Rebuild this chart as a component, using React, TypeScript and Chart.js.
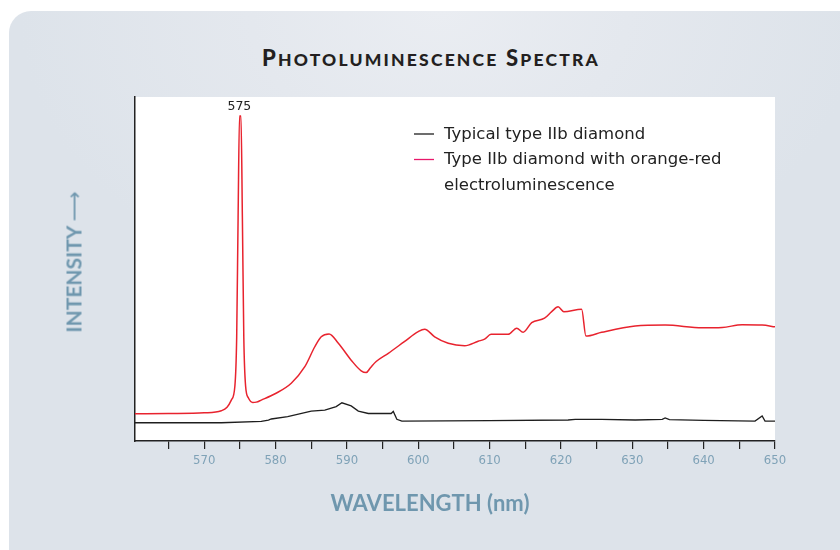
import React, { useEffect, useRef } from "react";
import { Chart, registerables } from "chart.js";

Chart.register(...registerables);

// ---- Data ----
const redWavelength = [
  560.3, 565, 570, 572.4, 573.2, 573.8, 574.3, 574.55, 574.75, 574.95, 575.15, 575.35, 575.55, 575.8,
  576.2, 576.8, 577.3, 578.0, 580, 582.2, 584.1, 585.5, 586.4, 587.5, 588.8, 590.6, 592.0, 592.7,
  593.3, 594.1, 595.8, 598, 600, 600.9, 602.3, 604.2, 606.5, 608.4, 609.3, 610.2, 612.6, 613.8,
  614.7, 615.9, 617.7, 618.7, 619.6, 620.4, 622.9, 623.5, 625.7, 630.4, 634.6, 639.8, 642.6, 645.4,
  648.2, 650,
];
const redIntensity = [
  7.9, 8.0, 8.2, 8.8, 9.8, 11.9, 16, 30, 65, 94.5, 94.5, 65, 30, 16,
  12.5, 11.2, 11.3, 11.9, 13.8, 16.8, 21.6, 27.4, 30.3, 31.1, 28.4, 23.5, 20.4, 19.9,
  21.3, 23.1, 25.5, 28.8, 31.8, 32.5, 30.3, 28.4, 27.7, 29.0, 29.6, 31.0, 31.0, 32.8,
  31.6, 34.4, 35.7, 37.6, 39.0, 37.6, 38.3, 30.5, 31.6, 33.4, 33.7, 32.9, 33.0, 33.8,
  33.7, 33.2,
];

const blackWavelength = [
  560.3, 572.4, 578, 579, 579.4, 581.7, 585, 586.9, 588.5, 589.3, 590.6, 591.6, 593, 596.2,
  596.5, 597, 597.7, 610, 621, 622, 625.7, 630.4, 634.2, 634.6, 635.2, 640, 647.2, 648.2, 648.6, 650,
];
const blackIntensity = [
  5.3, 5.3, 5.7, 6.1, 6.4, 7.1, 8.7, 9.0, 10.0, 11.1, 10.2, 8.7, 8.0, 8.0,
  8.6, 6.3, 5.8, 5.9, 6.1, 6.3, 6.3, 6.1, 6.3, 6.7, 6.2, 6.0, 5.8, 7.3, 5.8, 5.8,
];

const xTickValues = [565, 570, 575, 580, 585, 590, 595, 600, 605, 610, 615, 620, 625, 630, 635, 640, 645, 650];
const xTickLabels = xTickValues.map((v) => (v % 10 === 0 ? String(v) : ""));

const seriesLabels = ["Typical type IIb diamond", "Type IIb diamond with orange-red electroluminescence"];
const legendLines = [["Typical type IIb diamond"], ["Type IIb diamond with orange-red", "electroluminescence"]];
const peakLabel = { wavelength: 575, intensity: 94.5, text: "575" };

const titleWords = ["Photoluminescence", "Spectra"];
const xTitle = "WAVELENGTH (nm)";
const yTitle = "INTENSITY";

const RED = "#e8232e";
const BLACK = "#1e1e1e";
const LEGEND_RED = "#e8186a";

const decorPlugin = {
  id: "decor",
  beforeDraw(chart: any) {
    const { ctx, chartArea: a } = chart;
    ctx.save();
    ctx.fillStyle = "#ffffff";
    ctx.fillRect(a.left, a.top, a.right - a.left, a.bottom - a.top);
    ctx.restore();
  },
  afterDraw(chart: any) {
    const { ctx, chartArea: a, scales } = chart;
    ctx.save();
    // legend
    const lx = a.left + 279;
    const ly = a.top + 37;
    const rowGap = 25.5;
    const colors = [BLACK, LEGEND_RED];
    ctx.font = "16.5px 'DejaVu Sans', Verdana, sans-serif";
    ctx.textBaseline = "middle";
    ctx.textAlign = "left";
    let row = 0;
    legendLines.forEach((lines, i) => {
      const y = ly + row * rowGap;
      ctx.strokeStyle = colors[i];
      ctx.lineWidth = 1.3;
      ctx.beginPath();
      ctx.moveTo(lx, y);
      ctx.lineTo(lx + 20, y);
      ctx.stroke();
      ctx.fillStyle = "#222222";
      lines.forEach((t, j) => {
        ctx.fillText(t, lx + 30, ly + (row + j) * rowGap + 0.5);
      });
      row += lines.length;
    });
    // peak label
    const px = scales.x.getPixelForValue(peakLabel.wavelength);
    const py = scales.y.getPixelForValue(peakLabel.intensity);
    ctx.font = "12.5px 'DejaVu Sans', Verdana, sans-serif";
    ctx.textAlign = "center";
    ctx.textBaseline = "bottom";
    ctx.fillStyle = "#222222";
    ctx.fillText(peakLabel.text, px - 0.5, py - 3);
    ctx.restore();
  },
};

export default function App() {
  const canvasRef = useRef<HTMLCanvasElement | null>(null);

  useEffect(() => {
    if (!canvasRef.current) return;
    const chart = new Chart(canvasRef.current, {
      type: "line",
      data: {
        datasets: [
          {
            label: seriesLabels[1],
            data: redWavelength.map((x, i) => ({ x, y: redIntensity[i] })),
            borderColor: RED,
            borderWidth: 1.5,
            pointRadius: 0,
            fill: false,
            cubicInterpolationMode: "monotone",
          },
          {
            label: seriesLabels[0],
            data: blackWavelength.map((x, i) => ({ x, y: blackIntensity[i] })),
            borderColor: BLACK,
            borderWidth: 1.3,
            pointRadius: 0,
            fill: false,
            tension: 0,
          },
        ],
      },
      options: {
        animation: false,
        responsive: false,
        maintainAspectRatio: false,
        layout: { padding: { left: 135, top: 97, right: 65, bottom: 0 } },
        plugins: {
          legend: { display: false },
          title: { display: false },
          tooltip: { enabled: false },
        },
        scales: {
          x: {
            type: "linear",
            min: 560.3,
            max: 650,
            afterBuildTicks: (scale: any) => {
              scale.ticks = xTickValues.map((v) => ({ value: v }));
            },
            afterFit: (scale: any) => {
              scale.height = 109;
            },
            ticks: {
              autoSkip: false,
              maxRotation: 0,
              padding: 4,
              color: "#7fa2b7",
              font: { family: "'DejaVu Sans Condensed', 'Liberation Sans Narrow', sans-serif", size: 13 },
              callback: (value: any) => {
                const idx = xTickValues.indexOf(Number(value));
                return idx >= 0 ? xTickLabels[idx] : "";
              },
            },
            grid: {
              display: true,
              drawOnChartArea: false,
              drawTicks: true,
              tickLength: 8,
              color: "#222222",
              lineWidth: 1.2,
            },
            border: { display: true, color: "#222222", width: 1.5 },
          },
          y: {
            type: "linear",
            min: 0,
            max: 100,
            afterFit: (scale: any) => {
              scale.width = 0;
            },
            ticks: { display: false },
            grid: { display: false },
            border: { display: true, color: "#222222", width: 1.5 },
          },
        },
      },
      plugins: [decorPlugin],
    });
    return () => chart.destroy();
  }, []);

  const bigCap = { fontSize: 22 };
  const smallCap = { fontSize: 17.5 };

  return (
    <div style={{ position: "fixed", left: 0, top: 0, width: 840, height: 550, overflow: "hidden", background: "#ffffff" }}>
      <div
        style={{
          position: "absolute",
          left: 9,
          top: 11,
          width: 831,
          height: 539,
          borderTopLeftRadius: 22,
          background:
            "radial-gradient(ellipse 420px 300px at 430px 0px, #eaedf2 0%, #e4e8ee 45%, #dde3ea 100%)",
        }}
      />
      <div
        style={{
          position: "absolute",
          left: 0,
          top: 45,
          width: 862,
          textAlign: "center",
          fontFamily: "Lato, 'Open Sans', sans-serif",
          fontWeight: 900,
          fontSize: 22,
          lineHeight: "26px",
          color: "#231f20",
          letterSpacing: 2.2,
          whiteSpace: "nowrap",
        }}
      >
        {titleWords.map((w, i) => (
          <span key={i}>
            {i > 0 ? " " : ""}
            <span style={bigCap}>{w.charAt(0).toUpperCase()}</span>
            <span style={smallCap}>{w.slice(1).toUpperCase()}</span>
          </span>
        ))}
      </div>
      <canvas ref={canvasRef} width={840} height={550} style={{ position: "absolute", left: 0, top: 0, width: 840, height: 550 }} />
      <div
        style={{
          position: "absolute",
          left: 0,
          top: 492,
          width: 860,
          textAlign: "center",
          fontFamily: "Lato, 'Open Sans', sans-serif",
          fontWeight: 700,
          fontSize: 22,
          lineHeight: "22px",
          color: "#6f97ae",
          whiteSpace: "nowrap",
        }}
      >
        {xTitle}
      </div>
      <div
        style={{
          position: "absolute",
          left: 74,
          top: 262,
          transform: "translate(-50%, -50%) rotate(-90deg)",
          fontFamily: "Lato, 'Open Sans', sans-serif",
          fontWeight: 700,
          fontSize: 21,
          lineHeight: "22px",
          color: "#6f97ae",
          whiteSpace: "nowrap",
        }}
      >
        {yTitle}
        <span style={{ fontFamily: "'DejaVu Sans', sans-serif", fontWeight: 400, marginLeft: 4 }}>⟶</span>
      </div>
    </div>
  );
}
